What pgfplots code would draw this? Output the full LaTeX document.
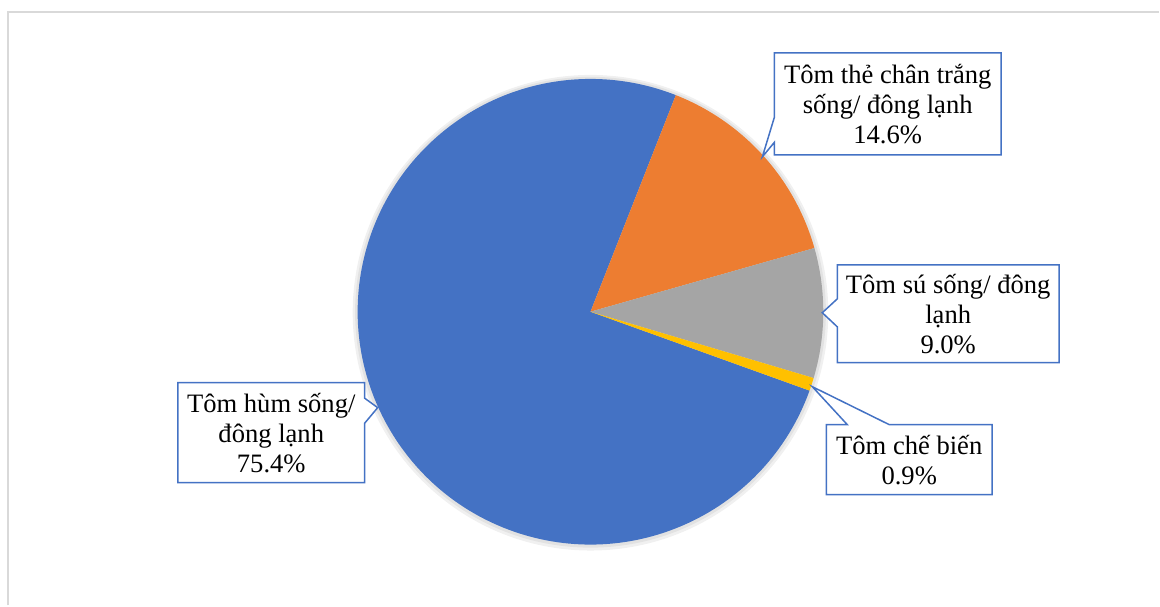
\documentclass[border=0pt]{standalone}
\usepackage{pgfplots}
\pgfplotsset{compat=1.18}
\usepackage{fontspec}
\setmainfont{Liberation Serif}
\usetikzlibrary{shapes.callouts}
\definecolor{pblue}{HTML}{4472C4}
\definecolor{porange}{HTML}{ED7D31}
\definecolor{pgray}{HTML}{A5A5A5}
\definecolor{pyellow}{HTML}{FFC000}
\definecolor{frame}{HTML}{D9D9D9}
% share (%) / colour, drawn clockwise
\def\piedata{75.4/pblue, 14.6/porange, 9.0/pgray, 0.9/pyellow}
\def\pietotal{99.9}
\begin{document}
\begin{tikzpicture}
\begin{axis}[
  scale only axis, width=580bp, height=303bp,
  xmin=0, xmax=1160, ymin=0, ymax=606,
  hide axis, clip=false,
]
\path (0,0) rectangle (1160,606);
\draw[frame, line width=1bp] (8,0) -- (8,594) -- (1160,594);
% soft shadow
\fill[black, opacity=0.06] (591,293) circle[radius=119bp];
\fill[black, opacity=0.06] (591,293.5) circle[radius=117.8bp];
\global\def\cur{-19.8}
\foreach \v/\c in \piedata {
  \pgfmathsetmacro\sp{\v/\pietotal*360}
  \pgfmathsetmacro\en{\cur-\sp}
  \edef\temp{\noexpand\fill[\c] (591,294) -- ++(\cur:116.5bp) arc[start angle=\cur, end angle=\en, radius=116.5bp] -- cycle;}
  \temp
  \global\let\cur\en
}
\tikzset{lab/.style={rectangle callout, draw=pblue, line width=0.75bp, fill=white,
  align=center, inner sep=0pt, font=\fontsize{13.3bp}{15bp}\selectfont}}
\node[lab, minimum width=113.5bp, minimum height=51bp, callout pointer width=12.5bp,
  callout absolute pointer={(763,449)}] at (888.5,502)
  {Tôm thẻ chân trắng\\sống/ đông lạnh\\14.6\%};
\node[lab, minimum width=111bp, minimum height=49bp, callout pointer width=14bp,
  callout absolute pointer={(823,293)}] at (949,292)
  {Tôm sú sống/ đông\\lạnh\\9.0\%};
\node[lab, minimum width=83bp, minimum height=35bp, callout pointer width=21bp,
  callout absolute pointer={(813,219)}] at (910,146)
  {Tôm chế biến\\0.9\%};
\node[lab, minimum width=93.5bp, minimum height=50bp, callout pointer width=12.5bp,
  callout absolute pointer={(378,198)}] at (271.5,173)
  {Tôm hùm sống/\\đông lạnh\\75.4\%};
\end{axis}
\end{tikzpicture}
\end{document}
